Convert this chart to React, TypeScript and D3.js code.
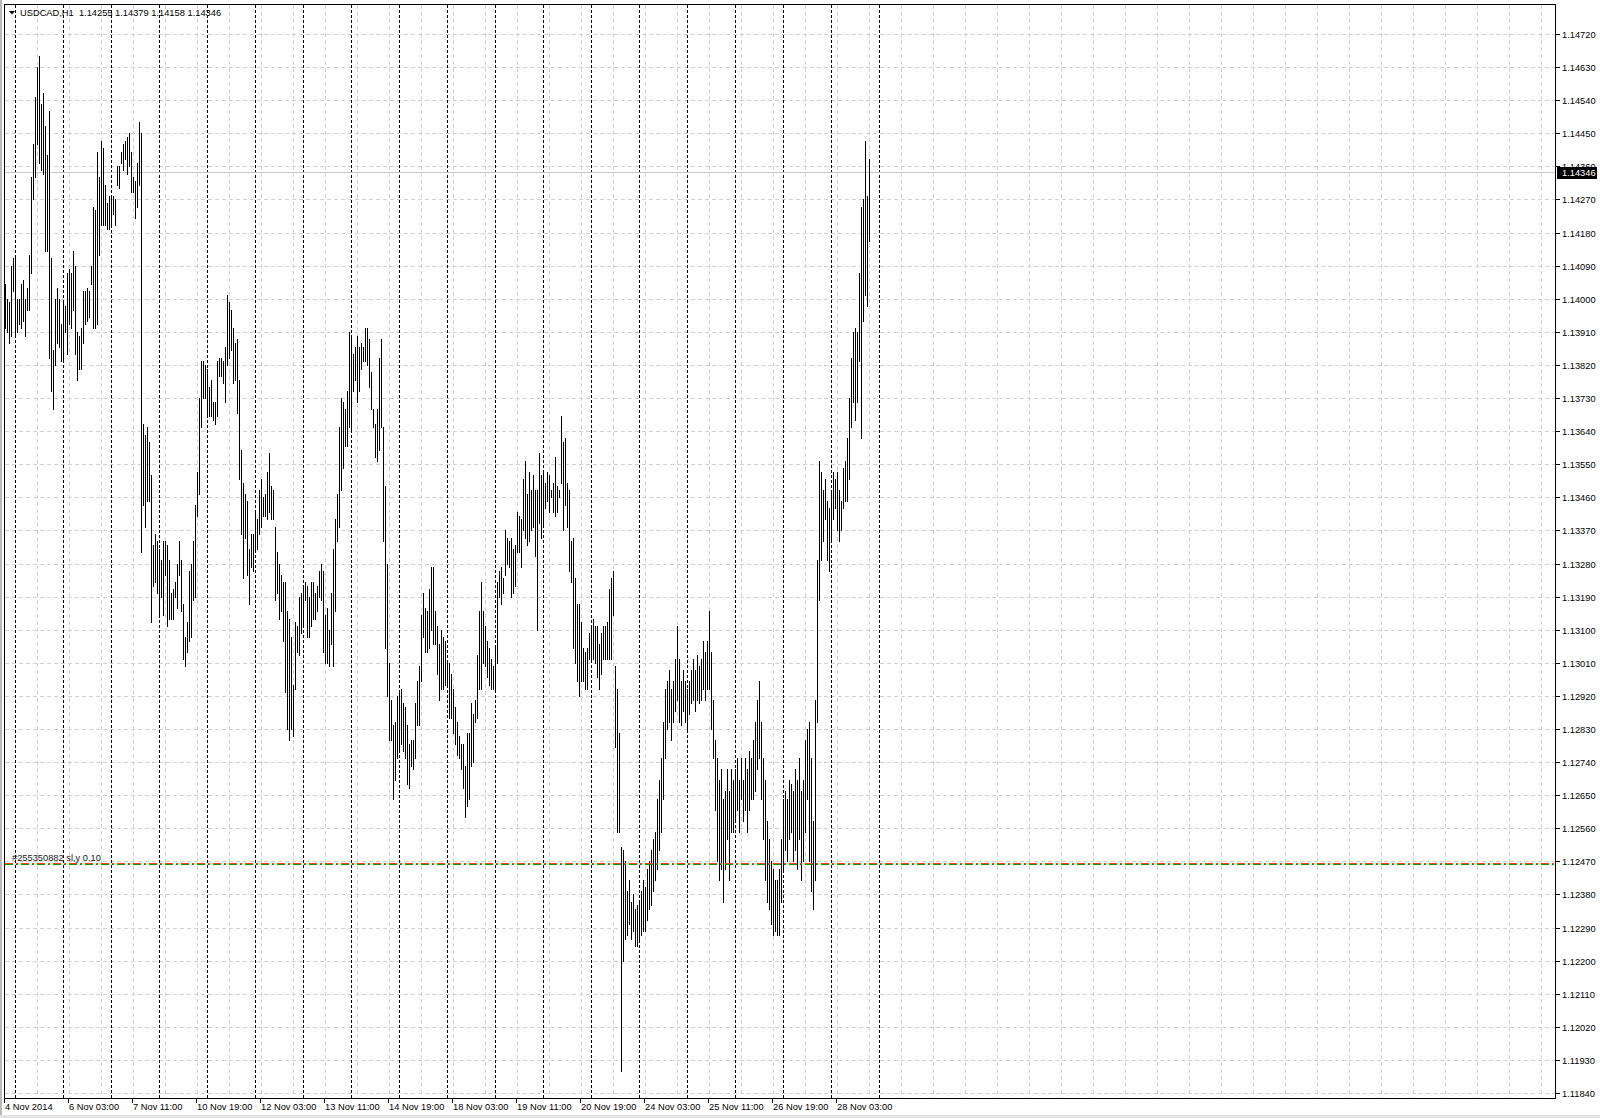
import React from "react";
import * as d3 from "d3";

// chart header
const symbol = "USDCAD,H1";
const lastBar = [1.14255, 1.14379, 1.14158, 1.14346]; // open high low close

// hourly bars, first one is 4 Nov 2014 19:00
const highs = [
  1.1404, 1.1400, 1.1399, 1.1409, 1.1411, 1.1411, 1.1400, 1.1400, 1.1404, 1.1405, 1.1400, 1.1403, 1.1412,
  1.1433, 1.1442, 1.1455, 1.1463, 1.1466, 1.1453, 1.1456, 1.1447, 1.1439, 1.1451,
  1.1411, 1.1386, 1.1400, 1.1403, 1.1400, 1.1393, 1.1399, 1.1398, 1.1407, 1.1408, 1.1407, 1.1413, 1.1409,
  1.1391, 1.1390, 1.1392, 1.1402, 1.1402, 1.1403, 1.1402, 1.1409, 1.1425, 1.1424, 1.1440, 1.1433, 1.1443, 1.1441,
  1.1431, 1.1426, 1.1428, 1.1428, 1.1428, 1.1427, 1.1436, 1.1436, 1.1440, 1.1442, 1.1443, 1.1444, 1.1445, 1.1440, 1.1433, 1.1432, 1.1437, 1.1448, 1.1445,
  1.1366, 1.1363, 1.1365, 1.1361, 1.1352, 1.1333, 1.1336, 1.1334, 1.1332, 1.1329, 1.1334, 1.1334, 1.1333, 1.1329, 1.1320, 1.1321, 1.1323, 1.1328, 1.1334, 1.1329, 1.1317,
  1.1308, 1.1312, 1.1326, 1.1328, 1.1334, 1.1344, 1.1353, 1.1373, 1.1383, 1.1383, 1.1382, 1.1381, 1.1376, 1.1378, 1.1372, 1.1372, 1.1383, 1.1384, 1.1384, 1.1383, 1.1387,
  1.1401, 1.1399, 1.1397, 1.1392, 1.1388, 1.1389, 1.1378, 1.1359, 1.1350, 1.1347, 1.1345, 1.1332, 1.1336, 1.1336, 1.1342, 1.1340, 1.1348, 1.1351, 1.1346, 1.1347, 1.1353,
  1.1358, 1.1349, 1.1348, 1.1338, 1.1331, 1.1328, 1.1325, 1.1323, 1.1323, 1.1315, 1.1313, 1.1308, 1.1295, 1.1312, 1.1311, 1.1319,
  1.1320, 1.1322, 1.1323, 1.1322, 1.1319, 1.1323, 1.1323, 1.1320, 1.1322, 1.1326, 1.1328, 1.1326, 1.1314, 1.1316, 1.1310, 1.1320, 1.1332, 1.1340, 1.1347, 1.1365,
  1.1373, 1.1372, 1.1370, 1.1375, 1.1391, 1.1390, 1.1385, 1.1387, 1.1390, 1.1387, 1.1388, 1.1387, 1.1392, 1.1392, 1.1389, 1.1380, 1.1370, 1.1366, 1.1370, 1.1384, 1.1389,
  1.1365, 1.1349, 1.1328, 1.1301, 1.1291, 1.1284, 1.1285, 1.1292, 1.1293, 1.1294, 1.1290, 1.1289, 1.1284, 1.1279, 1.1280, 1.1280, 1.1290, 1.1296, 1.1300, 1.1314, 1.1320,
  1.1316, 1.1315, 1.1321, 1.1327, 1.1327, 1.1315, 1.1311, 1.1306, 1.1310, 1.1308, 1.1307, 1.1301, 1.1301, 1.1298, 1.1294, 1.1289, 1.1285, 1.1281,
  1.1279, 1.1279, 1.1273, 1.1282, 1.1282, 1.1290, 1.1287, 1.1291, 1.1303, 1.1315, 1.1323, 1.1315, 1.1311, 1.1307, 1.1305, 1.1302, 1.1300, 1.1305,
  1.1323, 1.1326, 1.1327, 1.1324, 1.1337, 1.1335, 1.1334, 1.1335, 1.1332, 1.1333, 1.1342, 1.1341, 1.1340, 1.1351, 1.1356, 1.1347, 1.1353, 1.1348, 1.1352, 1.1348, 1.1348,
  1.1358, 1.1352, 1.1353, 1.1350, 1.1353, 1.1352, 1.1348, 1.1350, 1.1357, 1.1349, 1.1348, 1.1368, 1.1361, 1.1362, 1.1350, 1.1348, 1.1334, 1.1335, 1.1324, 1.1317, 1.1317,
  1.1312, 1.1305, 1.1304, 1.1305, 1.1309, 1.1311, 1.1313, 1.1311, 1.1311, 1.1306, 1.1309, 1.1311, 1.1311, 1.1312, 1.1321, 1.1324, 1.1326, 1.1300, 1.1294, 1.1282,
  1.1251, 1.1250, 1.1247, 1.1239, 1.1242, 1.1236, 1.1238, 1.1234, 1.1235, 1.1236, 1.1239, 1.1242, 1.1240, 1.1245, 1.1247, 1.1250, 1.1253, 1.1255, 1.1264, 1.1269,
  1.1275, 1.1285, 1.1294, 1.1296, 1.1299, 1.1294, 1.1296, 1.1302, 1.1311, 1.1302, 1.1296, 1.1299, 1.1296, 1.1294, 1.1296, 1.1299, 1.1302, 1.1299, 1.1303, 1.1300,
  1.1302, 1.1307, 1.1304, 1.1307, 1.1315, 1.1304, 1.1291, 1.1280, 1.1275, 1.1269, 1.1272, 1.1264, 1.1266, 1.1272, 1.1266, 1.1272, 1.1269, 1.1272, 1.1275, 1.1269,
  1.1275, 1.1269, 1.1275, 1.1272, 1.1277, 1.1275, 1.1280, 1.1285, 1.1291, 1.1296, 1.1285, 1.1275, 1.1269, 1.1258, 1.1253, 1.1247, 1.1245, 1.1242, 1.1242, 1.1245,
  1.1253, 1.1264, 1.1266, 1.1264, 1.1269, 1.1268, 1.1266, 1.1272, 1.1269, 1.1275, 1.1266, 1.1269, 1.1280, 1.1283, 1.1285, 1.1275, 1.1258, 1.1291, 1.1329, 1.1356,
  1.1353, 1.1348, 1.1351, 1.1345, 1.1343, 1.1348, 1.1353, 1.1351, 1.1353, 1.1348, 1.1345, 1.1354, 1.1356, 1.1362,
  1.1373, 1.1384, 1.1391, 1.1392, 1.1391, 1.1407, 1.1425, 1.1427, 1.1443, 1.1428, 1.14379,
];

const lows = [
  1.1392, 1.1391, 1.1388, 1.1390, 1.1402, 1.1390, 1.1391, 1.1393, 1.1392, 1.1394, 1.1390, 1.1397, 1.1397,
  1.1407, 1.1427, 1.1433, 1.1442, 1.1437, 1.1435, 1.1434, 1.1413, 1.1413, 1.1384,
  1.1375, 1.1370, 1.1382, 1.1388, 1.1387, 1.1383, 1.1383, 1.1391, 1.1385, 1.1393, 1.1392, 1.1397, 1.1385,
  1.1378, 1.1381, 1.1381, 1.1388, 1.1393, 1.1394, 1.1395, 1.1404, 1.1392, 1.1392, 1.1393, 1.1412, 1.1420, 1.1420,
  1.1420, 1.1419, 1.1419, 1.1420, 1.1423, 1.1420, 1.1431, 1.1430, 1.1437, 1.1435, 1.1438, 1.1434, 1.1436, 1.1429, 1.1429, 1.1422, 1.1425, 1.1431, 1.1331,
  1.1344, 1.1338, 1.1345, 1.1345, 1.1312, 1.1322, 1.1323, 1.1320, 1.1314, 1.1319, 1.1314, 1.1325, 1.1311, 1.1313, 1.1313, 1.1313, 1.1319, 1.1316, 1.1325, 1.1315, 1.1302,
  1.1300, 1.1304, 1.1307, 1.1308, 1.1318, 1.1319, 1.1341, 1.1347, 1.1365, 1.1373, 1.1373, 1.1368, 1.1368, 1.1368, 1.1367, 1.1366, 1.1368, 1.1379, 1.1379, 1.1377, 1.1372,
  1.1382, 1.1384, 1.1386, 1.1377, 1.1378, 1.1369, 1.1351, 1.1336, 1.1324, 1.1335, 1.1325, 1.1317, 1.1327, 1.1326, 1.1331, 1.1332, 1.1336, 1.1338, 1.1341, 1.1341, 1.1340,
  1.1342, 1.1340, 1.1340, 1.1318, 1.1320, 1.1313, 1.1315, 1.1307, 1.1293, 1.1283, 1.1280, 1.1283, 1.1281, 1.1294, 1.1304, 1.1303,
  1.1309, 1.1311, 1.1318, 1.1308, 1.1308, 1.1311, 1.1313, 1.1313, 1.1315, 1.1319, 1.1318, 1.1304, 1.1301, 1.1301, 1.1300, 1.1306, 1.1300, 1.1315, 1.1334, 1.1338,
  1.1348, 1.1354, 1.1360, 1.1360, 1.1365, 1.1364, 1.1375, 1.1378, 1.1372, 1.1375, 1.1381, 1.1383, 1.1383, 1.1382, 1.1376, 1.1370, 1.1365, 1.1357, 1.1356, 1.1359, 1.1365,
  1.1334, 1.1305, 1.1292, 1.1280, 1.1280, 1.1264, 1.1269, 1.1275, 1.1277, 1.1279, 1.1277, 1.1275, 1.1268, 1.1267, 1.1273, 1.1272, 1.1275, 1.1284, 1.1284, 1.1296, 1.1308,
  1.1304, 1.1304, 1.1305, 1.1310, 1.1306, 1.1306, 1.1298, 1.1291, 1.1294, 1.1294, 1.1295, 1.1295, 1.1286, 1.1286, 1.1282, 1.1279, 1.1276, 1.1275,
  1.1272, 1.1267, 1.1259, 1.1262, 1.1264, 1.1273, 1.1274, 1.1285, 1.1286, 1.1294, 1.1294, 1.1301, 1.1300, 1.1297, 1.1295, 1.1294, 1.1294, 1.1294,
  1.1301, 1.1319, 1.1317, 1.1320, 1.1325, 1.1328, 1.1327, 1.1319, 1.1320, 1.1322, 1.1331, 1.1331, 1.1327, 1.1337, 1.1335, 1.1333, 1.1334, 1.1337, 1.1338, 1.1330, 1.1310,
  1.1339, 1.1335, 1.1338, 1.1343, 1.1345, 1.1342, 1.1346, 1.1342, 1.1341, 1.1342, 1.1346, 1.1350, 1.1337, 1.1344, 1.1338, 1.1326, 1.1323, 1.1305, 1.1301, 1.1296, 1.1292,
  1.1296, 1.1296, 1.1294, 1.1294, 1.1302, 1.1302, 1.1302, 1.1301, 1.1297, 1.1294, 1.1298, 1.1302, 1.1302, 1.1302, 1.1302, 1.1302, 1.1314, 1.1278, 1.1255, 1.1255,
  1.1190, 1.1220, 1.1226, 1.1227, 1.1230, 1.1226, 1.1228, 1.1224, 1.1224, 1.1226, 1.1227, 1.1228, 1.1228, 1.1231, 1.1234, 1.1235, 1.1239, 1.1242, 1.1245, 1.1250,
  1.1255, 1.1264, 1.1275, 1.1283, 1.1285, 1.1280, 1.1285, 1.1288, 1.1291, 1.1285, 1.1284, 1.1288, 1.1285, 1.1283, 1.1287, 1.1290, 1.1291, 1.1288, 1.1291, 1.1290,
  1.1291, 1.1294, 1.1291, 1.1294, 1.1294, 1.1283, 1.1275, 1.1261, 1.1247, 1.1242, 1.1245, 1.1236, 1.1245, 1.1253, 1.1242, 1.1255, 1.1255, 1.1258, 1.1261, 1.1255,
  1.1264, 1.1258, 1.1261, 1.1255, 1.1261, 1.1264, 1.1264, 1.1266, 1.1272, 1.1275, 1.1264, 1.1253, 1.1242, 1.1236, 1.1234, 1.1230, 1.1227, 1.1228, 1.1227, 1.1227,
  1.1236, 1.1245, 1.1250, 1.1247, 1.1253, 1.1255, 1.1247, 1.1250, 1.1245, 1.1253, 1.1242, 1.1247, 1.1255, 1.1264, 1.1247, 1.1239, 1.1234, 1.1242, 1.1285, 1.1318,
  1.1329, 1.1334, 1.1340, 1.1329, 1.1326, 1.1334, 1.1340, 1.1343, 1.1337, 1.1334, 1.1337, 1.1343, 1.1345, 1.1345,
  1.1351, 1.1365, 1.1372, 1.1367, 1.1372, 1.1383, 1.1362, 1.1394, 1.1401, 1.1398, 1.14158,
];

const timeLabels = [
  "4 Nov 2014", "6 Nov 03:00", "7 Nov 11:00", "10 Nov 19:00", "12 Nov 03:00", "13 Nov 11:00", "14 Nov 19:00",
  "18 Nov 03:00", "19 Nov 11:00", "20 Nov 19:00", "24 Nov 03:00", "25 Nov 11:00", "26 Nov 19:00", "28 Nov 03:00",
];
const dayCount = 19; // 5 Nov .. 28 Nov + next day start
const orderPrice = 1.12466;
const orderLabel = "#255350882 sl,y 0.10";

const priceMin = 1.1184;
const priceMax = 1.1472;
const priceStep = 0.0009;

const W = 1600;
const H = 1118;
const L = 4.5, T = 4.5, R = 1555.5, B = 1098.5;
const FONT = "Liberation Sans, Arial, sans-serif";

export default function App() {
  const x = d3.scaleLinear().domain([0, 775]).range([5, 1555]);
  const y = d3.scaleLinear().domain([priceMin, priceMax]).range([1093, 34]);
  const px = (i: number) => Math.round(x(i)) + 0.5;
  const py = (v: number) => Math.round(y(v)) + 0.5;

  const priceTicks = d3.range(0, Math.round((priceMax - priceMin) / priceStep) + 1).map(k => priceMin + k * priceStep);
  const gridX = d3.range(16, 776, 16);
  const daySeps = d3.range(dayCount).map(k => 5 + k * 24);
  const labelIdx = timeLabels.map((_, k) => k * 32);
  const close = lastBar[3];

  return (
    <div style={{position: "absolute", left: 0, top: 0}}>
      <svg width={W} height={H} style={{display: "block", background: "#fff"}}>
        <rect x={0} y={0} width={2} height={H} fill="#b9b9b9"/>
        <rect x={0} y={H - 3} width={W} height={3} fill="#e3e3e3"/>

        {/* grid */}
        <g stroke="#d2d2d2" strokeDasharray="4,3" shapeRendering="crispEdges">
          {priceTicks.map((p, k) => (
            <line key={"h" + k} x1={L} x2={R} y1={py(p)} y2={py(p)}/>
          ))}
          {gridX.map(i => (
            <line key={"v" + i} x1={px(i)} x2={px(i)} y1={T} y2={B}/>
          ))}
        </g>

        {/* period separators */}
        <g stroke="#000" strokeDasharray="3,2" shapeRendering="crispEdges">
          {daySeps.map(i => (
            <line key={i} x1={px(i)} x2={px(i)} y1={T} y2={B}/>
          ))}
        </g>

        {/* bid line */}
        <line x1={L} x2={R} y1={py(close)} y2={py(close)} stroke="#c8c8c8" shapeRendering="crispEdges"/>

        {/* bars */}
        <g stroke="#000" shapeRendering="crispEdges">
          {highs.map((h, i) => (
            <line key={i} x1={px(i)} x2={px(i)} y1={Math.round(y(h))} y2={Math.round(y(lows[i])) + 1}/>
          ))}
        </g>

        {/* order line */}
        <line x1={L} x2={R} y1={py(orderPrice) + 1} y2={py(orderPrice) + 1} stroke="#00a000" strokeDasharray="8,3,2,3" shapeRendering="crispEdges"/>
        <line x1={L} x2={R} y1={py(orderPrice)} y2={py(orderPrice)} stroke="#ff4500" strokeDasharray="8,3,2,3" shapeRendering="crispEdges"/>
        <text x={12} y={py(orderPrice) - 3} fontFamily={FONT} fontSize={9.3} fill="#222">{orderLabel}</text>

        {/* frame */}
        <rect x={L} y={T} width={R - L} height={B - T} fill="none" stroke="#000" shapeRendering="crispEdges"/>

        {/* title */}
        <path d="M9,11 L15,11 L12,14.5 Z" fill="#000"/>
        <text x={20} y={16} fontFamily={FONT} fontSize={9.3} fill="#000" style={{whiteSpace: "pre"}}>
          {symbol + "  " + lastBar.map(v => v.toFixed(5)).join(" ")}
        </text>

        {/* price axis */}
        <g fontFamily={FONT} fontSize={9.3} fill="#000">
          {priceTicks.map((p, k) => (
            <g key={k}>
              <line x1={R} x2={R + 4} y1={py(p)} y2={py(p)} stroke="#000" shapeRendering="crispEdges"/>
              <text x={1562} y={py(p) + 3.5}>{p.toFixed(5)}</text>
            </g>
          ))}
        </g>
        <rect x={1557} y={py(close) - 5.5} width={40} height={12} fill="#000"/>
        <text x={1562} y={py(close) + 3.5} fontFamily={FONT} fontSize={9.3} fill="#fff">{close.toFixed(5)}</text>

        {/* time axis */}
        <g fontFamily={FONT} fontSize={9.3} fill="#000">
          {labelIdx.map((i, k) => (
            <g key={k}>
              <line x1={px(i) - 1} x2={px(i) - 1} y1={B} y2={B + 4} stroke="#000" shapeRendering="crispEdges"/>
              <text x={px(i) - 0.5} y={1110}>{timeLabels[k]}</text>
            </g>
          ))}
        </g>
      </svg>
    </div>
  );
}
